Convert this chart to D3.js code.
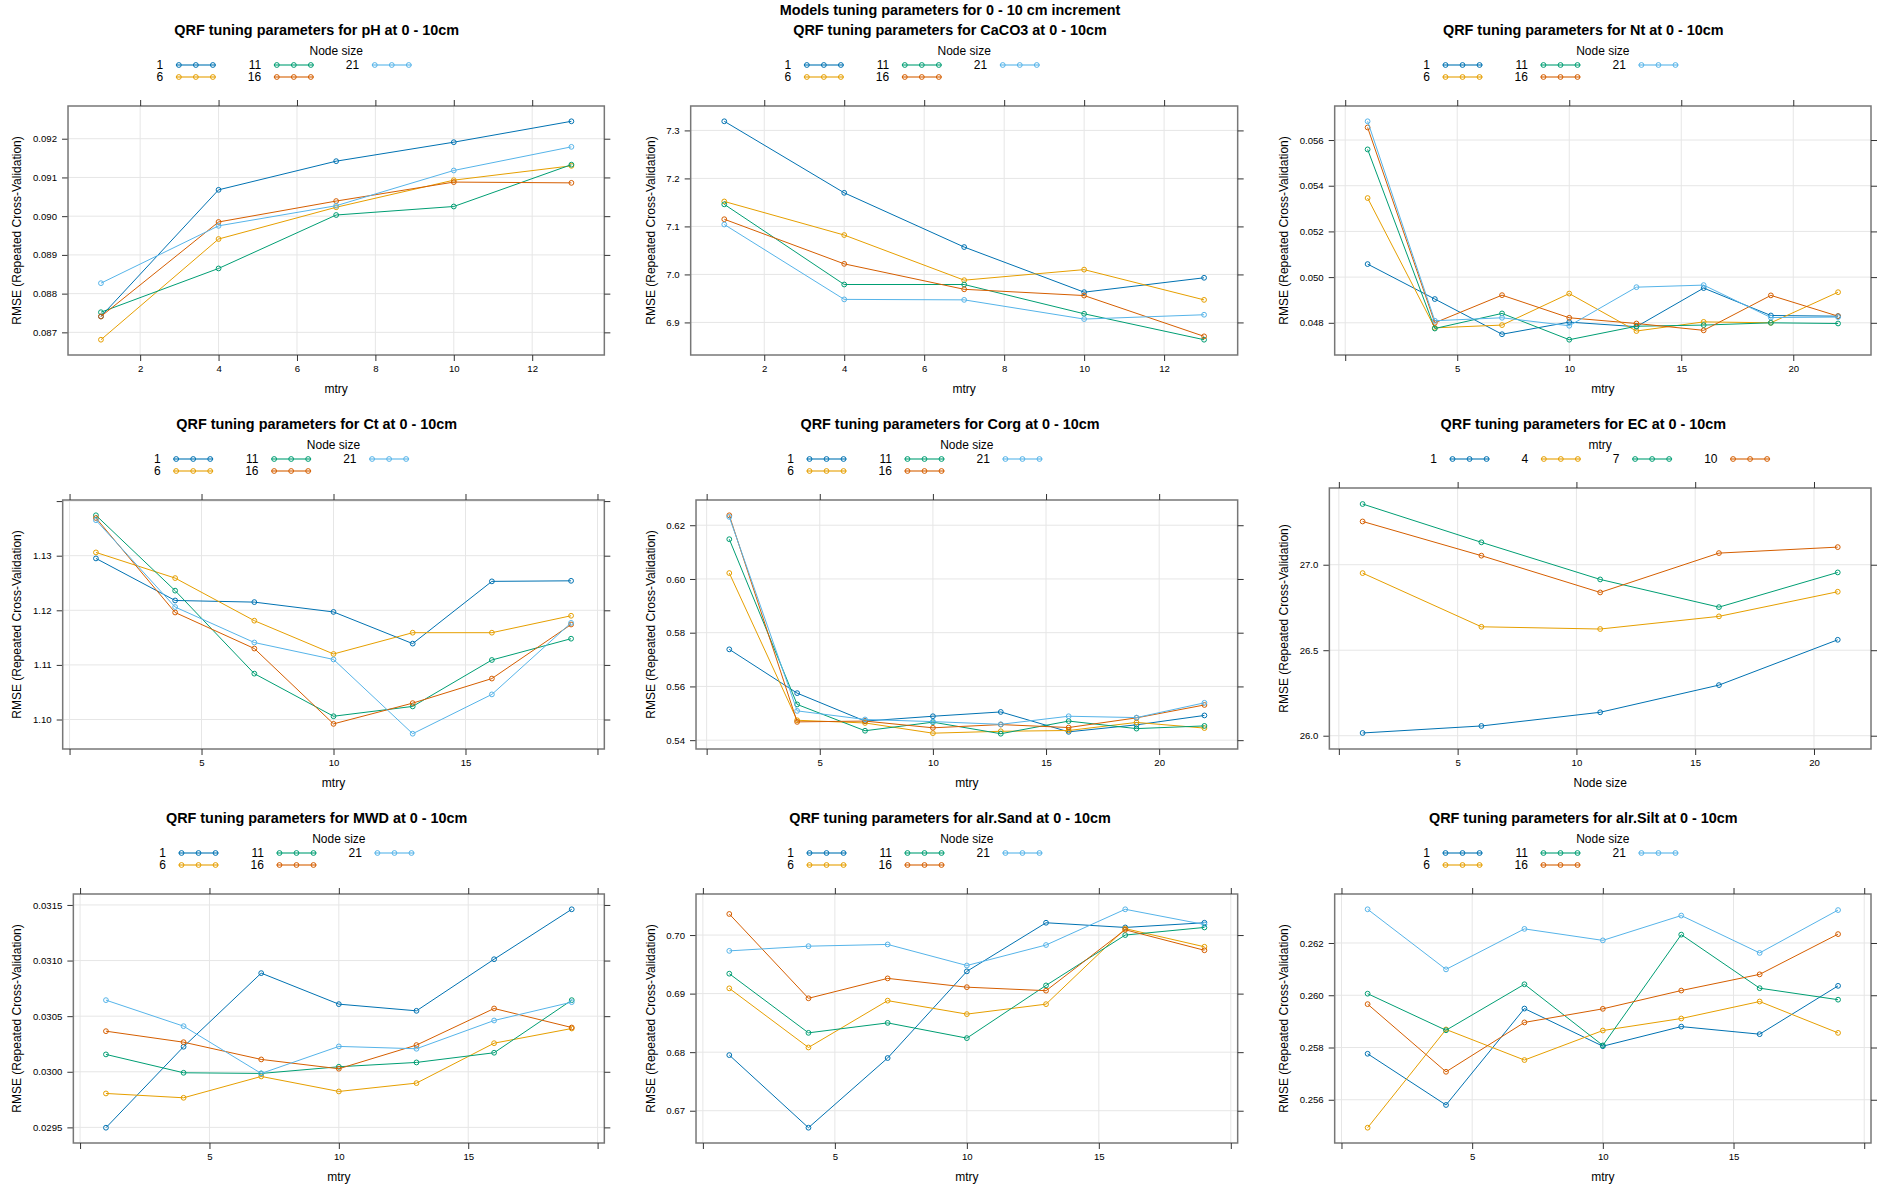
<!DOCTYPE html>
<html>
<head>
<meta charset="utf-8">
<script src="https://cdn.jsdelivr.net/npm/d3@7"></script>
<style>
    body { margin: 0; background: #ffffff; }
    text { font-family: "Liberation Sans", Arial, sans-serif; fill: #000; }
</style>
</head>
<body>
<svg id="chart" width="1900" height="1200"></svg>
<script>
"use strict";

// ---- values ----
const nodeSizes = [1, 6, 11, 16, 21];
const ecMtry = [1, 4, 7, 10];
const mtryShort = [1, 4, 7, 10, 13];
const mtryMid = [1, 4, 7, 10, 13, 16, 19];
const mtryLong = [1, 4, 7, 10, 13, 16, 19, 22];
const seriesColors = ["#0072B2", "#E69F00", "#009E73", "#D55E00", "#56B4E9"];

// one row per node size (1, 6, 11, 16, 21)
const rmsePH = [
    [0.08741, 0.09068, 0.09142, 0.09191, 0.09245],
    [0.08681, 0.08941, 0.09023, 0.09093, 0.09130],
    [0.08752, 0.08865, 0.09003, 0.09025, 0.09133],
    [0.08741, 0.08985, 0.09039, 0.09088, 0.09086],
    [0.08827, 0.08975, 0.09027, 0.09118, 0.09179]
];
const rmseCaCO3 = [
    [7.319, 7.170, 7.057, 6.963, 6.993],
    [7.152, 7.082, 6.988, 7.010, 6.947],
    [7.146, 6.979, 6.979, 6.918, 6.864],
    [7.115, 7.022, 6.969, 6.956, 6.871],
    [7.104, 6.948, 6.947, 6.907, 6.916]
];
const rmseNt = [
    [0.05057, 0.04904, 0.04750, 0.04803, 0.04783, 0.04952, 0.04832, 0.04829],
    [0.05346, 0.04778, 0.04790, 0.04928, 0.04764, 0.04804, 0.04800, 0.04934],
    [0.05559, 0.04775, 0.04841, 0.04726, 0.04785, 0.04790, 0.04800, 0.04797],
    [0.05655, 0.04800, 0.04921, 0.04822, 0.04797, 0.04767, 0.04920, 0.04829],
    [0.05682, 0.04809, 0.04822, 0.04787, 0.04956, 0.04965, 0.04823, 0.04825]
];
const rmseCt = [
    [1.1295, 1.1218, 1.1215, 1.1197, 1.1139, 1.1253, 1.1254],
    [1.1306, 1.1259, 1.1181, 1.1120, 1.1159, 1.1159, 1.1190],
    [1.1374, 1.1236, 1.1084, 1.1006, 1.1024, 1.1109, 1.1148],
    [1.1369, 1.1196, 1.1130, 1.0992, 1.1030, 1.1075, 1.1174],
    [1.1365, 1.1206, 1.1141, 1.1110, 1.0974, 1.1046, 1.1177]
];
const rmseCorg = [
    [0.5738, 0.5575, 0.5471, 0.5489, 0.5505, 0.5431, 0.5457, 0.5492],
    [0.6022, 0.5474, 0.5464, 0.5426, 0.5433, 0.5436, 0.5466, 0.5445],
    [0.6148, 0.5533, 0.5435, 0.5467, 0.5424, 0.5471, 0.5443, 0.5453],
    [0.6237, 0.5468, 0.5471, 0.5446, 0.5458, 0.5447, 0.5483, 0.5531],
    [0.6231, 0.5509, 0.5477, 0.5469, 0.5459, 0.5489, 0.5484, 0.5539]
];
// EC: one row per mtry (1, 4, 7, 10), x is node size
const rmseEC = [
    [26.016, 26.057, 26.137, 26.296, 26.561],
    [26.951, 26.637, 26.624, 26.698, 26.842],
    [27.355, 27.131, 26.914, 26.752, 26.955],
    [27.253, 27.053, 26.838, 27.068, 27.103]
];
const rmseMWD = [
    [0.029497, 0.030225, 0.030887, 0.030608, 0.030548, 0.031012, 0.031461],
    [0.029805, 0.029766, 0.029958, 0.029823, 0.029898, 0.030257, 0.030389],
    [0.030156, 0.029991, 0.029985, 0.030045, 0.030084, 0.030171, 0.030644],
    [0.030365, 0.030266, 0.030111, 0.030027, 0.030240, 0.030569, 0.030398],
    [0.030644, 0.030410, 0.029985, 0.030228, 0.030207, 0.030461, 0.030626]
];
const rmseSand = [
    [0.6795, 0.6671, 0.6790, 0.6938, 0.7021, 0.7013, 0.7021],
    [0.6909, 0.6808, 0.6888, 0.6865, 0.6882, 0.7011, 0.6980],
    [0.6934, 0.6833, 0.6850, 0.6824, 0.6914, 0.7000, 0.7013],
    [0.7036, 0.6892, 0.6926, 0.6911, 0.6905, 0.7009, 0.6974],
    [0.6973, 0.6981, 0.6984, 0.6948, 0.6983, 0.7044, 0.7018]
];
const rmseSilt = [
    [0.25776, 0.25580, 0.25949, 0.25805, 0.25880, 0.25851, 0.26036],
    [0.25493, 0.25869, 0.25752, 0.25865, 0.25911, 0.25976, 0.25856],
    [0.26006, 0.25866, 0.26042, 0.25808, 0.26232, 0.26027, 0.25983],
    [0.25966, 0.25707, 0.25896, 0.25948, 0.26018, 0.26080, 0.26234],
    [0.26329, 0.26099, 0.26254, 0.26210, 0.26305, 0.26162, 0.26326]
];

// tick values and their labels ("" = tick without a label)
const xTicksShort = [2, 4, 6, 8, 10, 12];
const xLabelsShort = ["2", "4", "6", "8", "10", "12"];
const xTicksLong = [0, 5, 10, 15, 20];
const xLabelsLong = ["", "5", "10", "15", "20"];
const xLabelsMid = ["", "5", "10", "15", ""];

const yTicksPH = [0.087, 0.088, 0.089, 0.090, 0.091, 0.092];
const yLabelsPH = ["0.087", "0.088", "0.089", "0.090", "0.091", "0.092"];
const yTicksCaCO3 = [6.9, 7.0, 7.1, 7.2, 7.3];
const yLabelsCaCO3 = ["6.9", "7.0", "7.1", "7.2", "7.3"];
const yTicksNt = [0.048, 0.050, 0.052, 0.054, 0.056];
const yLabelsNt = ["0.048", "0.050", "0.052", "0.054", "0.056"];
const yTicksCt = [1.10, 1.11, 1.12, 1.13, 1.14];
const yLabelsCt = ["1.10", "1.11", "1.12", "1.13", ""];
const yTicksCorg = [0.54, 0.56, 0.58, 0.60, 0.62];
const yLabelsCorg = ["0.54", "0.56", "0.58", "0.60", "0.62"];
const yTicksEC = [26.0, 26.5, 27.0];
const yLabelsEC = ["26.0", "26.5", "27.0"];
const yTicksMWD = [0.0295, 0.0300, 0.0305, 0.0310, 0.0315];
const yLabelsMWD = ["0.0295", "0.0300", "0.0305", "0.0310", "0.0315"];
const yTicksSand = [0.67, 0.68, 0.69, 0.70];
const yLabelsSand = ["0.67", "0.68", "0.69", "0.70"];
const yTicksSilt = [0.256, 0.258, 0.260, 0.262];
const yLabelsSilt = ["0.256", "0.258", "0.260", "0.262"];

const mainTitle = "Models tuning parameters for 0 - 10 cm increment";
const yTitle = "RMSE (Repeated Cross-Validation)";

// panel table built from the arrays above
const panels = [
    { name: "pH", x: mtryShort, rmse: rmsePH, key: nodeSizes, keyTitle: "Node size", xTitle: "mtry",
      xTicks: xTicksShort, xLabels: xLabelsShort, yTicks: yTicksPH, yLabels: yLabelsPH },
    { name: "CaCO3", x: mtryShort, rmse: rmseCaCO3, key: nodeSizes, keyTitle: "Node size", xTitle: "mtry",
      xTicks: xTicksShort, xLabels: xLabelsShort, yTicks: yTicksCaCO3, yLabels: yLabelsCaCO3 },
    { name: "Nt", x: mtryLong, rmse: rmseNt, key: nodeSizes, keyTitle: "Node size", xTitle: "mtry",
      xTicks: xTicksLong, xLabels: xLabelsLong, yTicks: yTicksNt, yLabels: yLabelsNt },
    { name: "Ct", x: mtryMid, rmse: rmseCt, key: nodeSizes, keyTitle: "Node size", xTitle: "mtry",
      xTicks: xTicksLong, xLabels: xLabelsMid, yTicks: yTicksCt, yLabels: yLabelsCt },
    { name: "Corg", x: mtryLong, rmse: rmseCorg, key: nodeSizes, keyTitle: "Node size", xTitle: "mtry",
      xTicks: xTicksLong, xLabels: xLabelsLong, yTicks: yTicksCorg, yLabels: yLabelsCorg },
    { name: "EC", x: nodeSizes, rmse: rmseEC, key: ecMtry, keyTitle: "mtry", xTitle: "Node size",
      xTicks: xTicksLong, xLabels: xLabelsLong, yTicks: yTicksEC, yLabels: yLabelsEC },
    { name: "MWD", x: mtryMid, rmse: rmseMWD, key: nodeSizes, keyTitle: "Node size", xTitle: "mtry",
      xTicks: xTicksLong, xLabels: xLabelsMid, yTicks: yTicksMWD, yLabels: yLabelsMWD },
    { name: "alr.Sand", x: mtryMid, rmse: rmseSand, key: nodeSizes, keyTitle: "Node size", xTitle: "mtry",
      xTicks: xTicksLong, xLabels: xLabelsMid, yTicks: yTicksSand, yLabels: yLabelsSand },
    { name: "alr.Silt", x: mtryMid, rmse: rmseSilt, key: nodeSizes, keyTitle: "Node size", xTitle: "mtry",
      xTicks: xTicksLong, xLabels: xLabelsMid, yTicks: yTicksSilt, yLabels: yLabelsSilt }
];

// ---- layout ----
const width = 1900;
const colW = width / 3;
const topH = 18;
const rowH = 394;
const tickFont = 9.6;
const labelFont = 12;
const titleFont = 14.4;

const svg = d3.select("#chart");

// measure a string in a given font size
function textWidth(str, size, weight) {
    let t = svg.append("text")
        .attr("font-size", size)
        .attr("font-weight", weight || "normal")
        .text(str)
    let w = t.node().getComputedTextLength()
    t.remove()
    return w
}

// lattice style limits: data range stretched by 7% on each side
function padded(values) {
    let ext = d3.extent(values)
    let pad = (ext[1] - ext[0]) * 0.07
    return [ext[0] - pad, ext[1] + pad]
}

function styleAxis(g, fontSize) {
    g.select(".domain").remove()
    g.selectAll(".tick line").attr("stroke", "#333").attr("stroke-width", 1)
    g.selectAll(".tick text")
        .attr("fill", "#000")
        .attr("font-size", fontSize)
        .attr("font-family", "Liberation Sans, Arial, sans-serif")
}

function drawPanel(p, i) {
    let col = i % 3
    let row = Math.floor(i / 3)
    let cx = col * colW
    let ry = topH + row * rowH
    let keyRows = p.key.length > 4 ? 2 : 1
    let g = svg.append("g")

    // panel title
    g.append("text")
        .attr("x", cx + colW / 2)
        .attr("y", ry + 12)
        .attr("dy", "0.35em")
        .attr("text-anchor", "middle")
        .attr("font-size", titleFont)
        .attr("font-weight", "bold")
        .text("QRF tuning parameters for " + p.name + " at 0 - 10cm")

    // y scale first, the left margin depends on its label widths
    let boxTop = ry + (keyRows === 2 ? 88 : 76)
    let boxBottom = ry + 337
    let y = d3.scaleLinear()
        .domain(padded(p.rmse.flat()))
        .range([boxBottom, boxTop])

    let yAxisLeft = g.append("g")
        .call(d3.axisLeft(y)
            .tickValues(p.yTicks)
            .tickFormat(function (d, k) { return p.yLabels[k] })
            .tickSizeInner(6).tickSizeOuter(0).tickPadding(5))
    styleAxis(yAxisLeft, tickFont)
    let maxW = d3.max(yAxisLeft.selectAll(".tick text").nodes(), function (n) { return n.getComputedTextLength() })
    let boxLeft = cx + 33 + maxW + 11
    let boxRight = cx + colW - 29
    yAxisLeft.attr("transform", "translate(" + boxLeft + ",0)")

    let x = d3.scaleLinear()
        .domain(padded(p.x))
        .range([boxLeft, boxRight])

    // grid
    let xd = x.domain()
    let yd = y.domain()
    g.append("g").selectAll("line")
        .data(p.xTicks.filter(function (d) { return d >= xd[0] && d <= xd[1] }))
        .enter().append("line")
        .attr("x1", function (d) { return x(d) })
        .attr("x2", function (d) { return x(d) })
        .attr("y1", boxTop).attr("y2", boxBottom)
        .attr("stroke", "#e6e6e6").attr("stroke-width", 1)
    g.append("g").selectAll("line")
        .data(p.yTicks.filter(function (d) { return d >= yd[0] && d <= yd[1] }))
        .enter().append("line")
        .attr("x1", boxLeft).attr("x2", boxRight)
        .attr("y1", function (d) { return y(d) })
        .attr("y2", function (d) { return y(d) })
        .attr("stroke", "#e6e6e6").attr("stroke-width", 1)

    // series lines and open circles
    let line = d3.line()
        .x(function (d) { return x(d[0]) })
        .y(function (d) { return y(d[1]) })
    p.rmse.forEach(function (vals, s) {
        let pts = vals.map(function (v, k) { return [p.x[k], v] })
        g.append("path")
            .datum(pts)
            .attr("fill", "none")
            .attr("stroke", seriesColors[s])
            .attr("stroke-width", 1)
            .attr("d", line)
        g.append("g").selectAll("circle")
            .data(pts)
            .enter().append("circle")
            .attr("cx", function (d) { return x(d[0]) })
            .attr("cy", function (d) { return y(d[1]) })
            .attr("r", 2.4)
            .attr("fill", "none")
            .attr("stroke", seriesColors[s])
            .attr("stroke-width", 1)
    })

    // box
    g.append("rect")
        .attr("x", boxLeft).attr("y", boxTop)
        .attr("width", boxRight - boxLeft)
        .attr("height", boxBottom - boxTop)
        .attr("fill", "none")
        .attr("stroke", "#777")
        .attr("stroke-width", 1.5)

    // remaining axes: bottom with labels, top and right ticks only
    let xAxisBottom = g.append("g")
        .attr("transform", "translate(0," + boxBottom + ")")
        .call(d3.axisBottom(x)
            .tickValues(p.xTicks)
            .tickFormat(function (d, k) { return p.xLabels[k] })
            .tickSizeInner(6).tickSizeOuter(0).tickPadding(4.5))
    styleAxis(xAxisBottom, tickFont)
    let xAxisTop = g.append("g")
        .attr("transform", "translate(0," + boxTop + ")")
        .call(d3.axisTop(x).tickValues(p.xTicks).tickFormat("").tickSizeInner(6).tickSizeOuter(0))
    styleAxis(xAxisTop, tickFont)
    let yAxisRight = g.append("g")
        .attr("transform", "translate(" + boxRight + ",0)")
        .call(d3.axisRight(y).tickValues(p.yTicks).tickFormat("").tickSizeInner(6).tickSizeOuter(0))
    styleAxis(yAxisRight, tickFont)

    // axis titles
    g.append("text")
        .attr("transform", "translate(" + (cx + 17) + "," + ((boxTop + boxBottom) / 2) + ") rotate(-90)")
        .attr("dy", "0.35em")
        .attr("text-anchor", "middle")
        .attr("font-size", labelFont)
        .text(yTitle)
    g.append("text")
        .attr("x", (boxLeft + boxRight) / 2)
        .attr("y", ry + 371)
        .attr("dy", "0.35em")
        .attr("text-anchor", "middle")
        .attr("font-size", labelFont)
        .text(p.xTitle)

    drawKey(g, p, (boxLeft + boxRight) / 2, ry, keyRows)
}

// key above the panel, filled column by column like lattice does
function drawKey(g, p, centre, ry, keyRows) {
    let cols = Math.ceil(p.key.length / keyRows)
    let textGap = 12.6
    let lineLen = 40
    let colGap = 32

    g.append("text")
        .attr("x", centre)
        .attr("y", ry + 33)
        .attr("dy", "0.35em")
        .attr("text-anchor", "middle")
        .attr("font-size", labelFont)
        .text(p.keyTitle)

    // column widths
    let colX = []
    let colText = []
    let pos = 0
    for (let c = 0; c < cols; c++) {
        let labels = p.key.filter(function (d, k) { return Math.floor(k / keyRows) === c })
        let tw = d3.max(labels, function (d) { return textWidth(String(d), labelFont) })
        colX.push(pos)
        colText.push(tw)
        pos += tw + textGap + lineLen + (c < cols - 1 ? colGap : 0)
    }
    let extra = keyRows > 1 ? 104 : 0
    let start = centre - (pos + extra) / 2

    p.key.forEach(function (label, k) {
        let c = Math.floor(k / keyRows)
        let r = k % keyRows
        let textRight = start + colX[c] + colText[c]
        let yy = ry + (r === 0 ? 47 : 59)
        let x0 = textRight + textGap
        g.append("text")
            .attr("x", textRight)
            .attr("y", yy)
            .attr("dy", "0.35em")
            .attr("text-anchor", "end")
            .attr("font-size", labelFont)
            .text(label)
        g.append("line")
            .attr("x1", x0).attr("x2", x0 + lineLen)
            .attr("y1", yy).attr("y2", yy)
            .attr("stroke", seriesColors[k])
            .attr("stroke-width", 2)
            .attr("stroke-opacity", 0.55)
        g.append("g").selectAll("circle")
            .data([3, lineLen / 2, lineLen - 3])
            .enter().append("circle")
            .attr("cx", function (d) { return x0 + d })
            .attr("cy", yy)
            .attr("r", 2.4)
            .attr("fill", "none")
            .attr("stroke", seriesColors[k])
            .attr("stroke-width", 1)
    })
}

svg.append("rect").attr("width", 1900).attr("height", 1200).attr("fill", "#fff")

svg.append("text")
    .attr("x", width / 2)
    .attr("y", 10)
    .attr("dy", "0.35em")
    .attr("text-anchor", "middle")
    .attr("font-size", titleFont)
    .attr("font-weight", "bold")
    .text(mainTitle)

panels.forEach(drawPanel)
</script>
</body>
</html>
